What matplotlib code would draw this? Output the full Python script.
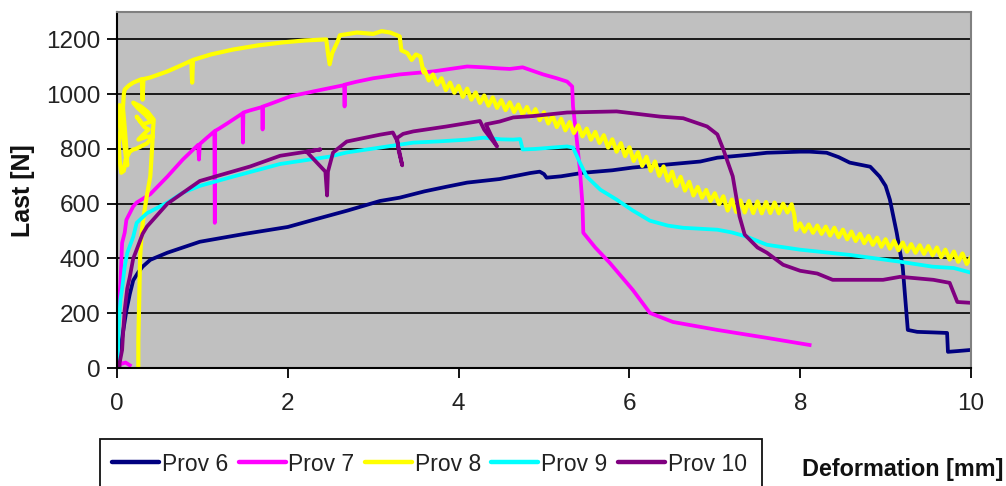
import matplotlib
matplotlib.use("Agg")
import matplotlib.pyplot as plt
from matplotlib.patches import Rectangle

plt.rcParams['font.family'] = ['Liberation Sans', 'DejaVu Sans']

# ---- tensile test curves: deformation [mm] vs load [N] ----
prov6_x = [0.0, 0.02, 0.05, 0.08, 0.11, 0.15, 0.19, 0.25, 0.30, 0.39, 0.59, 0.97, 1.5, 2.0, 2.3, 2.7,
           3.08, 3.31, 3.6, 3.86, 4.10, 4.48, 4.84, 4.95, 5.0, 5.03, 5.2, 5.46, 5.8, 6.04, 6.44, 6.83,
           7.03, 7.41, 7.61, 8.0, 8.11, 8.31, 8.45, 8.58, 8.82, 8.93, 9.0, 9.05, 9.13, 9.2, 9.26, 9.37,
           9.55, 9.72, 9.73, 9.85, 10.0]
prov6_y = [0, 30, 90, 150, 210, 270, 320, 350, 370, 395, 421, 461, 490, 515, 541, 575,
           610, 622, 645, 662, 677, 690, 712, 717, 708, 695, 700, 713, 722, 732, 743, 754,
           768, 779, 786, 790, 790, 786, 770, 750, 735, 699, 665, 615, 494, 370, 139, 132,
           130, 128, 59, 62, 66]

prov7_x = [0.15, 0.10, 0.05, 0.02, 0.0, 0.04, 0.06, 0.09, 0.11, 0.19, 0.23, 0.39, 0.59, 0.77,
           0.95, 0.96, 0.97, 1.05, 1.14, 1.145, 1.15, 1.2, 1.3, 1.47, 1.475, 1.48, 1.55, 1.70,
           1.705, 1.71, 1.8, 2.03, 2.3, 2.66, 2.665, 2.67, 2.8, 3.0, 3.31, 3.70, 4.10, 4.3,
           4.48, 4.6, 4.75, 4.99, 5.15, 5.27, 5.33, 5.34, 5.38, 5.42, 5.45, 5.46, 5.6, 5.77,
           6.04, 6.24, 6.51, 7.03, 7.61, 8.11]
prov7_y = [10, 20, 15, 40, 128, 311, 457, 494, 541, 590, 604, 635, 699, 761,
           815, 761, 818, 840, 864, 530, 866, 875, 895, 930, 823, 933, 940, 953,
           871, 955, 965, 992, 1010, 1033, 955, 1035, 1045, 1058, 1072, 1083, 1101, 1098,
           1094, 1092, 1098, 1072, 1058, 1046, 1028, 955, 845, 724, 600, 494, 440, 384,
           285, 201, 168, 139, 110, 84]

prov8_x = [0.25, 0.25, 0.26, 0.27, 0.29, 0.32, 0.35, 0.39, 0.41, 0.42, 0.43,
           0.36, 0.28, 0.19, 0.24, 0.33, 0.40, 0.30, 0.23, 0.32, 0.37, 0.30, 0.25, 0.35, 0.42,
           0.35, 0.22, 0.19, 0.15,
           0.10, 0.08, 0.05, 0.03, 0.02, 0.04, 0.02, 0.03, 0.06, 0.08, 0.10, 0.12, 0.11, 0.09,
           0.07, 0.08, 0.09,
           0.14, 0.19, 0.25, 0.29, 0.30, 0.31, 0.39, 0.59, 0.75, 0.87, 0.88, 0.89, 1.1, 1.36,
           1.65, 1.94, 2.2, 2.45, 2.47, 2.49, 2.52, 2.58, 2.61, 2.81, 3.0, 3.1, 3.2, 3.31, 3.33,
           3.40, 3.45, 3.50, 3.55, 3.59,
           3.60, 3.65, 3.70, 3.75, 3.80, 3.85, 3.90, 3.95, 4.00, 4.05, 4.10, 4.15, 4.20, 4.25,
           4.30, 4.35, 4.40, 4.45, 4.50, 4.55, 4.60, 4.65, 4.70, 4.75, 4.80, 4.85, 4.90, 4.95,
           5.00, 5.05, 5.10, 5.15, 5.20, 5.25, 5.30, 5.35, 5.40, 5.45, 5.50, 5.55, 5.60, 5.65,
           5.70, 5.75, 5.80, 5.85, 5.90, 5.95, 6.00, 6.05, 6.10, 6.15, 6.20, 6.25, 6.30, 6.35,
           6.40, 6.45, 6.50, 6.55, 6.60, 6.65, 6.70, 6.75, 6.80, 6.85, 6.90, 6.95, 7.00, 7.05,
           7.10, 7.15, 7.20, 7.25, 7.30, 7.35, 7.40, 7.45, 7.50, 7.55, 7.60, 7.65, 7.70, 7.75,
           7.80, 7.85, 7.90, 7.93, 7.95, 8.00, 8.05, 8.10, 8.15, 8.20, 8.25, 8.30, 8.35, 8.40,
           8.45, 8.50, 8.55, 8.60, 8.65, 8.70, 8.75, 8.80, 8.85, 8.90, 8.95, 9.00, 9.05, 9.10,
           9.15, 9.20, 9.25, 9.30, 9.35, 9.40, 9.45, 9.50, 9.55, 9.60, 9.65, 9.70, 9.75, 9.80,
           9.85, 9.90, 9.95, 10.00]
prov8_y = [0, 100, 250, 400, 500, 570, 630, 700, 798, 860, 907,
           935, 955, 969, 950, 925, 900, 890, 918, 880, 871, 850, 834, 845, 845,
           820, 800, 798, 790,
           760, 720, 713, 760, 820, 870, 930, 960, 900, 830, 780, 740, 800, 880,
           950, 1000, 1017,
           1032, 1042, 1050, 1055, 980, 1055, 1061, 1083, 1105, 1122, 1042, 1125, 1145, 1163,
           1178, 1189, 1196, 1200, 1150, 1109, 1150, 1190, 1215, 1225, 1220, 1230, 1225, 1211, 1160,
           1150, 1125, 1145, 1138, 1079,
           1090, 1050, 1072, 1035, 1058, 1015, 1042, 1005, 1030, 990, 1020, 980, 1006, 968,
           995, 958, 988, 950, 978, 942, 970, 935, 962, 925, 953, 918, 945, 905,
           934, 893, 921, 880, 910, 868, 898, 858, 886, 846, 874, 834, 862, 822,
           850, 805, 835, 790, 821, 774, 806, 756, 788, 738, 771, 720, 754, 702,
           736, 684, 717, 665, 698, 648, 680, 630, 661, 622, 650, 610, 638, 598,
           627, 575, 615, 570, 612, 568, 610, 566, 608, 565, 606, 566, 604, 565,
           600, 568, 598, 560, 505, 528, 498, 524, 494, 520, 490, 516, 484, 512,
           478, 505, 470, 498, 464, 490, 456, 482, 450, 476, 443, 470, 436, 464,
           430, 458, 425, 452, 421, 448, 417, 445, 412, 440, 405, 432, 396, 425,
           388, 418, 380, 405]

prov9_x = [0.01, 0.01, 0.02, 0.04, 0.06, 0.09, 0.12, 0.19, 0.23, 0.35, 0.59, 0.77, 0.97, 1.36,
           1.91, 2.49, 2.69, 3.08, 3.47, 3.8, 4.10, 4.29, 4.5, 4.64, 4.72, 4.75, 4.9, 5.1, 5.27,
           5.34, 5.42, 5.50, 5.66, 5.85, 6.04, 6.24, 6.45, 6.63, 7.03, 7.2, 7.38, 7.61, 8.0, 8.58,
           9.17, 9.55, 9.8, 10.0]
prov9_y = [0, 40, 150, 249, 290, 370, 420, 479, 530, 565, 604, 640, 665, 699,
           745, 772, 787, 805, 823, 828, 834, 841, 835, 834, 836, 798, 800, 805, 809,
           805, 750, 699, 651, 615, 575, 538, 520, 512, 505, 495, 479, 450, 432, 413,
           388, 370, 365, 348]

prov10_x = [0.03, 0.03, 0.06, 0.07, 0.09, 0.12, 0.15, 0.19, 0.23, 0.30, 0.35, 0.59, 0.97, 1.56,
            1.91, 2.22, 2.38, 2.22, 2.44, 2.46, 2.47, 2.53, 2.69, 3.08, 3.23, 3.28, 3.34, 3.30,
            3.28, 3.35, 3.47, 3.86, 4.25, 4.30, 4.45, 4.38, 4.32, 4.48, 4.64, 4.87, 5.27, 5.85,
            6.36, 6.63, 6.91, 7.03, 7.1, 7.21, 7.29, 7.35, 7.5, 7.61, 7.8, 8.0, 8.2, 8.38, 8.97,
            9.17, 9.56, 9.75, 9.84, 10.0]
prov10_y = [0, 18, 66, 120, 212, 290, 333, 400, 432, 490, 516, 600, 683, 736,
            775, 790, 798, 790, 717, 630, 717, 787, 827, 852, 860, 830, 740, 790,
            840, 855, 864, 882, 902, 870, 809, 850, 890, 900, 915, 920, 933, 937,
            918, 912, 882, 853, 798, 700, 553, 487, 440, 421, 377, 355, 345, 322, 322,
            333, 322, 311, 241, 238]

series = [
    ("Prov 6", prov6_x, prov6_y, "#000080"),
    ("Prov 7", prov7_x, prov7_y, "#ff00ff"),
    ("Prov 8", prov8_x, prov8_y, "#ffff00"),
    ("Prov 9", prov9_x, prov9_y, "#00ffff"),
    ("Prov 10", prov10_x, prov10_y, "#800080"),
]
x_ticks = [0, 2, 4, 6, 8, 10]
y_ticks = [0, 200, 400, 600, 800, 1000, 1200]

W, H = 1006, 486
fig = plt.figure(figsize=(W / 100, H / 100), dpi=100)
fig.patch.set_facecolor("white")
ax = fig.add_axes([117 / W, 1 - 368 / H, (971 - 117) / W, (368 - 12) / H])
ax.set_facecolor("#c0c0c0")
ax.set_xlim(0, 10)
ax.set_ylim(0, 1300)
ax.set_xticks(x_ticks)
ax.set_yticks(y_ticks)
ax.yaxis.grid(True, color="#1a1a1a", lw=1.4)
ax.set_axisbelow(True)

for side in ("left", "bottom"):
    ax.spines[side].set_color("black")
    ax.spines[side].set_linewidth(1.5)
for side in ("top", "right"):
    ax.spines[side].set_color("#808080")
    ax.spines[side].set_linewidth(1.5)

ax.tick_params(axis="both", direction="out", length=7, width=1.3, colors="black",
               labelsize=17.5, labelcolor="#222222")
ax.tick_params(axis="x", pad=11)
ax.tick_params(axis="y", pad=5)

lines = []
for name, xs, ys, col in series:
    lw = 3.0 if col == "#ffff00" else 2.7
    ln, = ax.plot(xs, ys, color=col, lw=lw, label=name, solid_joinstyle="round")
    lines.append(ln)

fig.text(23 / W, 1 - 191 / H, "Last [N]", rotation=90, ha="center", va="center",
         fontsize=18, fontweight="bold", color="#111111")
fig.text(1003 / W, 1 - 469 / H, "Deformation [mm]", ha="right", va="center",
         fontsize=16.8, fontweight="bold", color="#111111")

leg = fig.legend(handles=lines, labels=[s[0] for s in series], loc="center left",
                 bbox_to_anchor=(112 / W, 1 - 464 / H), ncol=5, frameon=False,
                 borderpad=0, borderaxespad=0,
                 fontsize=16.5, handlelength=2.05, handletextpad=0.13, columnspacing=0.45)
for hl in leg.get_lines():
    hl.set_linewidth(3.2)
    hl.set_solid_capstyle("round")
for t in leg.get_texts():
    t.set_color("#222222")

fig.patches.append(Rectangle((100 / W, -0.02), (762 - 100) / W, 1 - 439 / H + 0.02,
                             transform=fig.transFigure, fill=False, edgecolor="#111111",
                             lw=1.3))

fig.savefig("out.png", dpi=100)
